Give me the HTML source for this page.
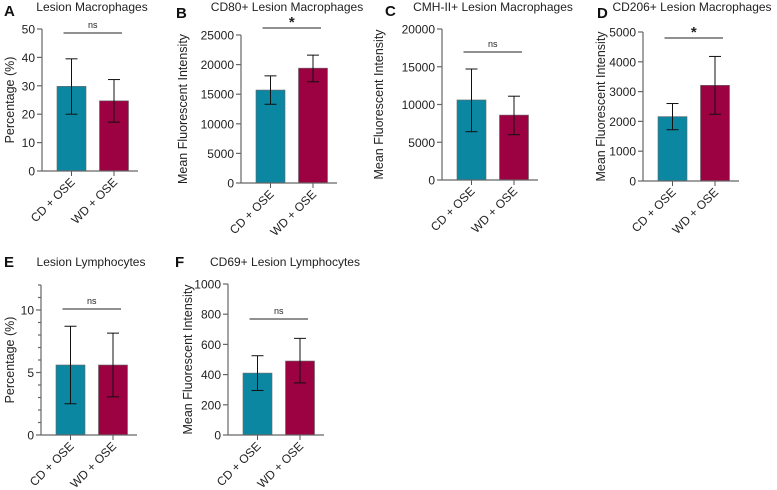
<!DOCTYPE html>
<html><head><meta charset="utf-8"><style>
body{margin:0;background:#fff;}
svg{display:block;font-family:"Liberation Sans",Arial,sans-serif;}
</style></head><body>
<svg id="chart" width="777" height="490" viewBox="0 0 777 490" xmlns="http://www.w3.org/2000/svg"></svg>
<script>
const groups = ["CD + OSE", "WD + OSE"];
const aMeans = [29.8, 24.7], aUpper = [39.5, 32.2], aLower = [20.0, 17.2], aTicks = [0,10,20,30,40,50];
const bMeans = [15700, 19400], bUpper = [18100, 21600], bLower = [13300, 17100], bTicks = [0,5000,10000,15000,20000,25000];
const cMeans = [10600, 8600], cUpper = [14700, 11100], cLower = [6400, 6000], cTicks = [0,5000,10000,15000,20000];
const dMeans = [2160, 3210], dUpper = [2600, 4180], dLower = [1720, 2240], dTicks = [0,1000,2000,3000,4000,5000];
const eMeans = [5.6, 5.6], eUpper = [8.7, 8.15], eLower = [2.5, 3.05], eTicks = [0,5,10], eMinor = [1,2,3,4,6,7,8,9,11,12];
const fMeans = [410, 490], fUpper = [525, 640], fLower = [295, 345], fTicks = [0,200,400,600,800,1000];
const sigLabels = ["ns", "*", "ns", "*", "ns", "ns"];

const colors = ["#0b87a1", "#9c0142"];
const NS = "http://www.w3.org/2000/svg";
const svg = document.getElementById("chart");
function el(tag, attrs, parent, text){
  const e = document.createElementNS(NS, tag);
  for (const k in attrs) e.setAttribute(k, attrs[k]);
  if (text !== undefined) e.textContent = text;
  (parent || svg).appendChild(e);
  return e;
}
function panel(p){
  const g = el("g", {});
  
  
  const yMax = p.yMax;
  const y = v => p.y0 - (v / yMax) * (p.y0 - p.yTop);
  const xs = [p.ax + 29.5, p.ax + 72];
  const lt = el("text", {x:p.lx, y:p.ly, "font-size":15, "font-weight":"bold", fill:"#111"}, g, p.letter);
  
  
  const tt = el("text", {x:p.tx, y:p.ty, "font-size":12, "text-anchor":"middle", fill:"#222"}, g, p.title);
  
  
  const yt = el("text", {x:0, y:0, "font-size":12.5, "text-anchor":"middle", fill:"#222", transform:`translate(${p.ytx},${(p.y0+p.yTop)/2}) rotate(-90)`}, g, p.ytitle);
  
  
  groups.forEach((c, i) => {
    const top = y(p.means[i]);
    const r = el("rect", {x:xs[i]-14.5, y:top, width:29, height:p.y0-top, fill:colors[i], stroke:"#666", "stroke-width":0.6}, g);
    
    
    const eb = el("g", {stroke:"#111", "stroke-width":1}, g);
    
    
    el("line", {x1:xs[i], x2:xs[i], y1:y(p.upper[i]), y2:y(p.lower[i])}, eb);
    el("line", {x1:xs[i]-6, x2:xs[i]+6, y1:y(p.upper[i]), y2:y(p.upper[i])}, eb);
    el("line", {x1:xs[i]-6, x2:xs[i]+6, y1:y(p.lower[i]), y2:y(p.lower[i])}, eb);
    el("line", {x1:xs[i], x2:xs[i], y1:p.y0, y2:p.y0+5, stroke:"#555"}, g);
    const lb = el("text", {x:0, y:0, "font-size":12, "text-anchor":"end", fill:"#222", transform:`translate(${xs[i]+4},${p.y0+12}) rotate(-45)`}, g, c);
    
    
  });
  const ax = el("g", {stroke:"#666", "stroke-width":1.2}, g);
  
  
  el("line", {x1:p.ax, x2:p.ax, y1:p.yTop, y2:p.y0}, ax);
  el("line", {x1:p.ax, x2:p.ax+96, y1:p.y0, y2:p.y0}, ax);
  p.ticks.forEach(t => {
    el("line", {x1:p.ax-5, x2:p.ax, y1:y(t), y2:y(t)}, ax);
    const tl = el("text", {x:p.ax-7, y:y(t)+4.5, "font-size":12, "text-anchor":"end", fill:"#222"}, g, t);
    
    
  });
  (p.minor || []).forEach(t => el("line", {x1:p.ax-3, x2:p.ax, y1:y(t), y2:y(t)}, ax));
  const sg = el("g", {}, g);
  
  
  el("line", {x1:xs[0]-8, x2:xs[1]+8, y1:p.sigY, y2:p.sigY, stroke:"#222", "stroke-width":1}, sg);
  const star = p.sig === "*";
  el("text", {x:(xs[0]+xs[1])/2, y:p.sigY-(star?1:5), "font-size":star?15:9, "font-weight":star?"bold":"normal", "text-anchor":"middle", fill:"#222"}, sg, p.sig);
}
panel({name:"panel-a", letter:"A", lx:4, ly:16, title:"Lesion Macrophages", tx:92, ty:11, ytitle:"Percentage (%)", ytx:14, ax:42, yTop:29, y0:171, yMax:50, ticks:aTicks, means:aMeans, upper:aUpper, lower:aLower, sig:sigLabels[0], sigY:33});
panel({name:"panel-b", letter:"B", lx:176, ly:18, title:"CD80+ Lesion Macrophages", tx:287, ty:11, ytitle:"Mean Fluorescent Intensity", ytx:187, ax:241, yTop:35, y0:183, yMax:25000, ticks:bTicks, means:bMeans, upper:bUpper, lower:bLower, sig:sigLabels[1], sigY:28});
panel({name:"panel-c", letter:"C", lx:385, ly:16, title:"CMH-II+ Lesion Macrophages", tx:493, ty:11, ytitle:"Mean Fluorescent Intensity", ytx:383, ax:442, yTop:29, y0:180, yMax:20000, ticks:cTicks, means:cMeans, upper:cUpper, lower:cLower, sig:sigLabels[2], sigY:52});
panel({name:"panel-d", letter:"D", lx:597, ly:18, title:"CD206+ Lesion Macrophages", tx:692, ty:11, ytitle:"Mean Fluorescent Intensity", ytx:605, ax:643, yTop:32, y0:181, yMax:5000, ticks:dTicks, means:dMeans, upper:dUpper, lower:dLower, sig:sigLabels[3], sigY:38});
panel({name:"panel-e", letter:"E", lx:4, ly:267, title:"Lesion Lymphocytes", tx:91, ty:266, ytitle:"Percentage (%)", ytx:14, ax:41, yTop:285, y0:435, yMax:12, ticks:eTicks, minor:eMinor, means:eMeans, upper:eUpper, lower:eLower, sig:sigLabels[4], sigY:309});
panel({name:"panel-f", letter:"F", lx:175, ly:267, title:"CD69+ Lesion Lymphocytes", tx:285, ty:266, ytitle:"Mean Fluorescent Intensity", ytx:192, ax:228, yTop:284, y0:435, yMax:1000, ticks:fTicks, means:fMeans, upper:fUpper, lower:fLower, sig:sigLabels[5], sigY:319});
</script>
</body></html>
